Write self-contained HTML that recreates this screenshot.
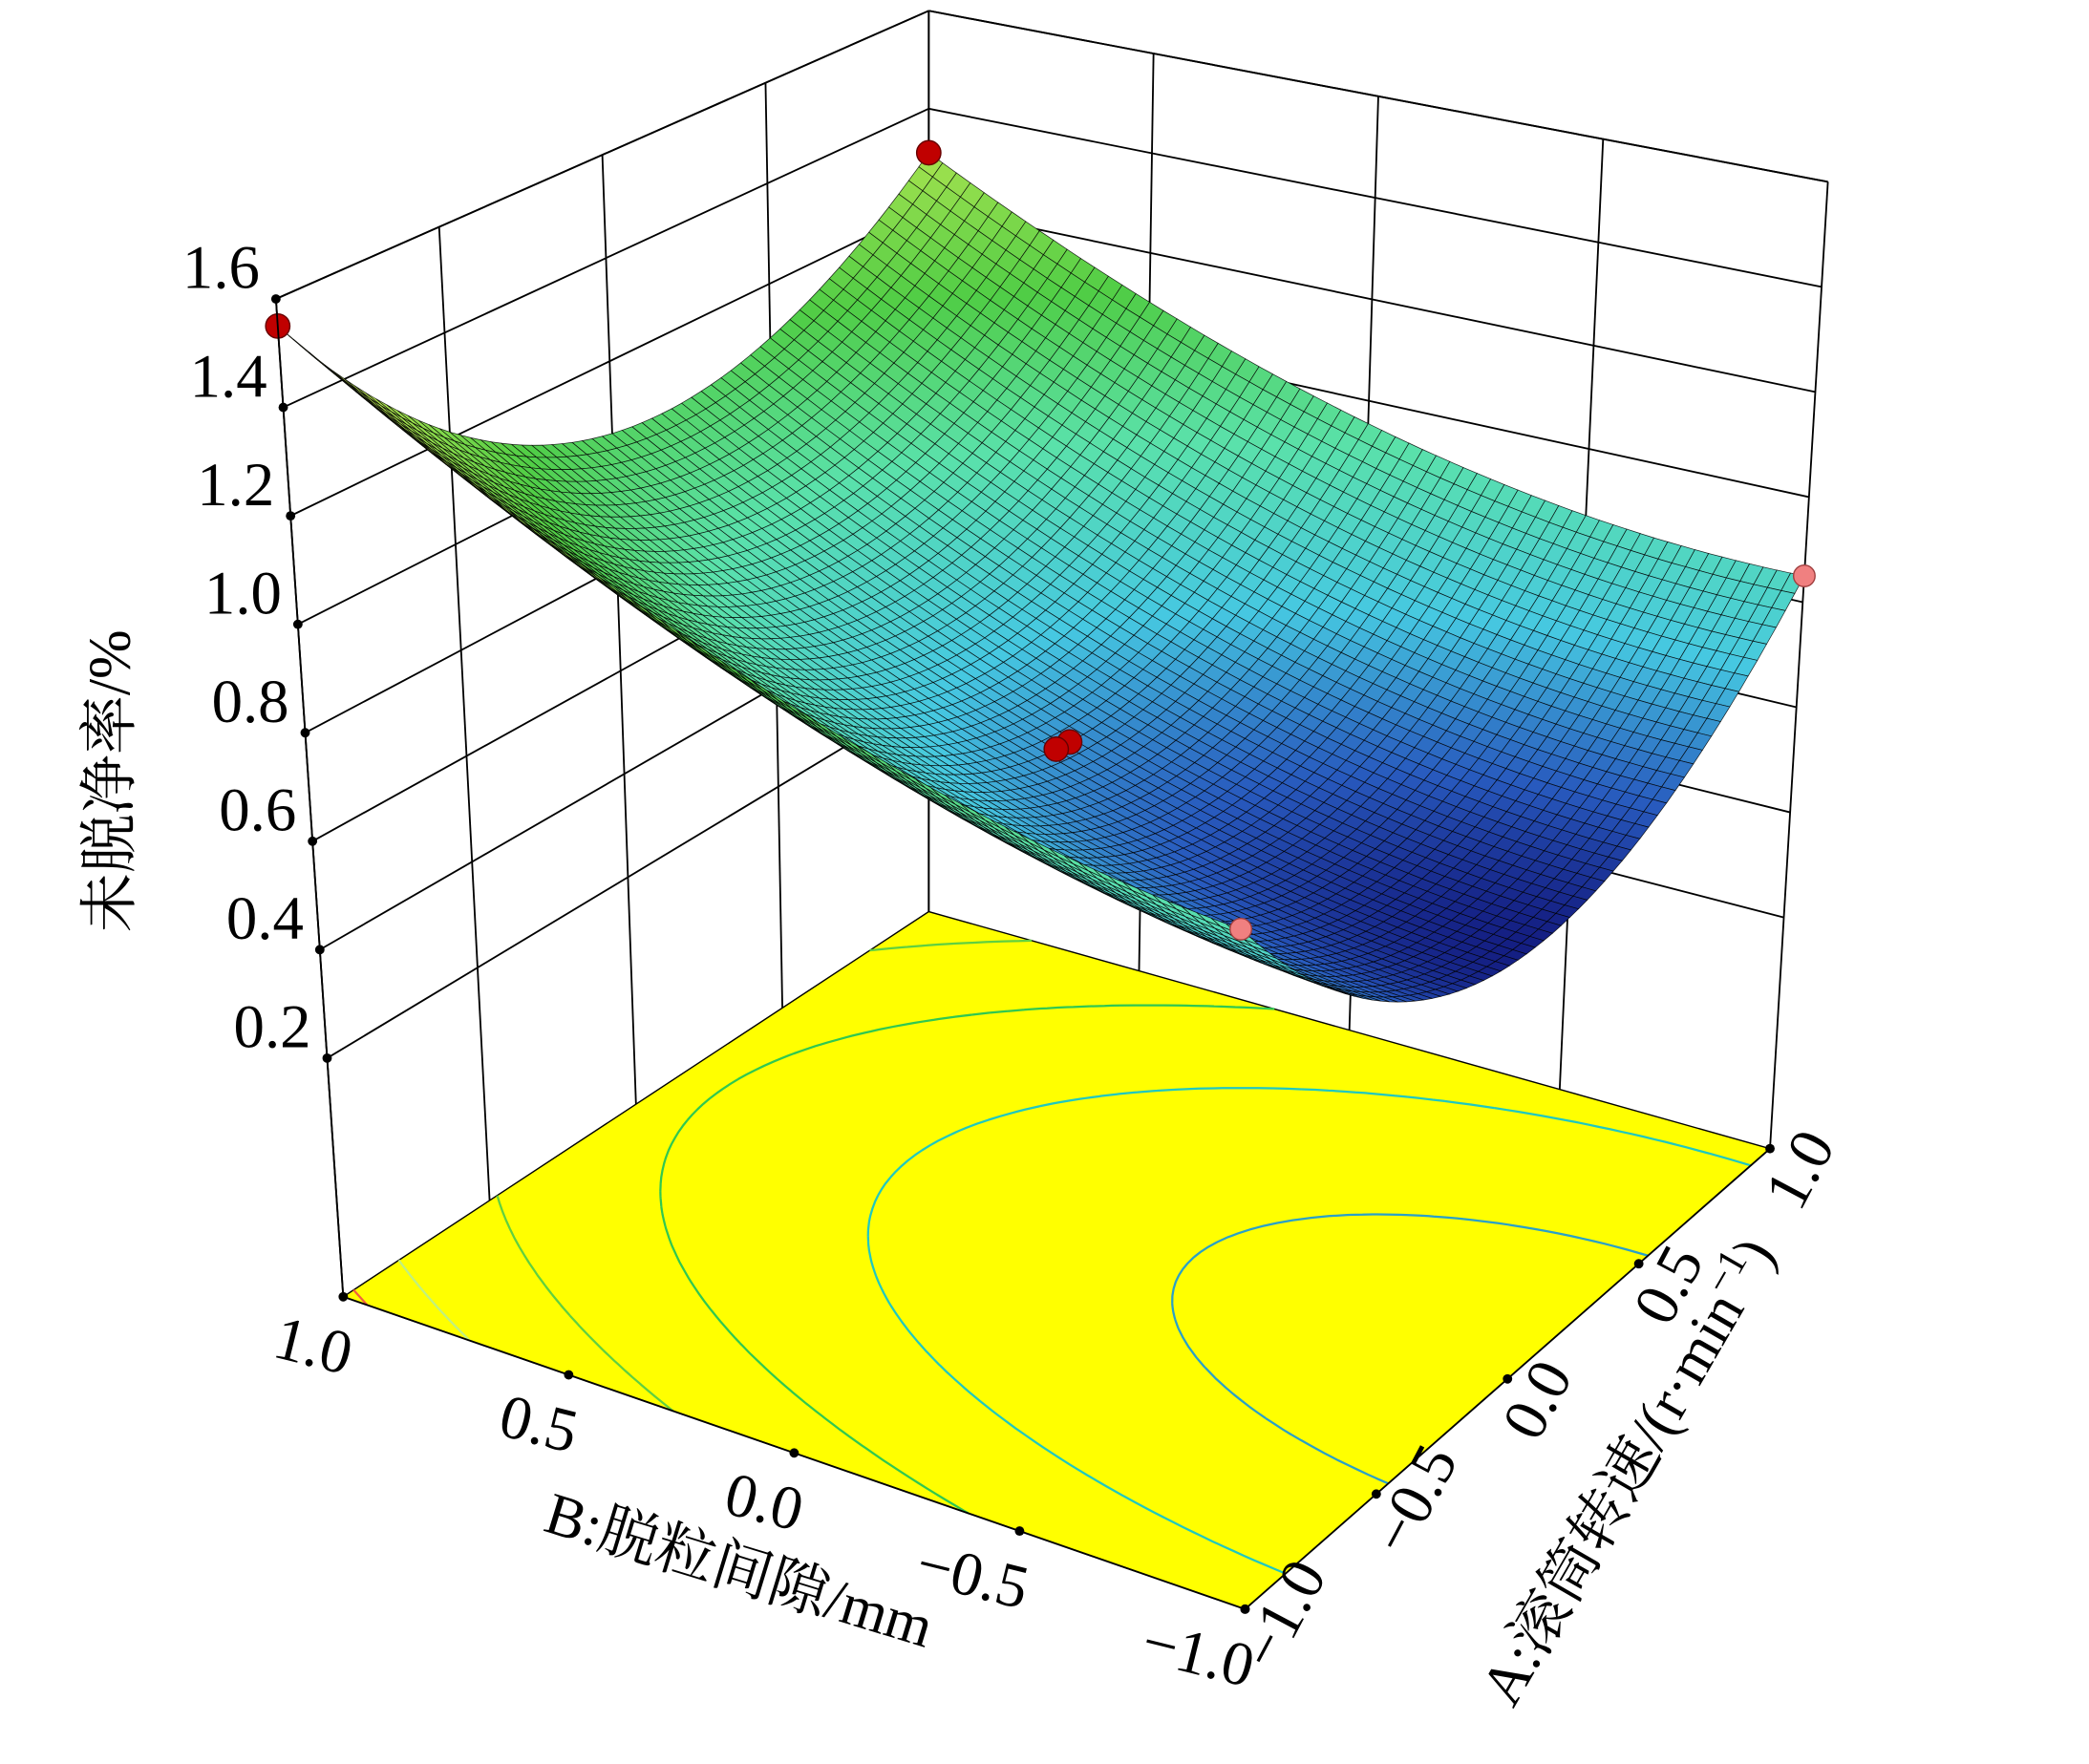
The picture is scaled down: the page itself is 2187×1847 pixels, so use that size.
<!DOCTYPE html>
<html><head><meta charset="utf-8"><style>
html,body{margin:0;padding:0;background:#fff;}
svg{display:block;}
text{font-family:"Liberation Serif","Noto Serif CJK SC","Noto Sans CJK SC",serif;fill:#000;}
</style></head><body>
<svg id="chart" width="2187" height="1847" viewBox="0 0 1552 1310" preserveAspectRatio="none" xmlns="http://www.w3.org/2000/svg">
<g id="walls"></g>
<g id="floor"></g>
<g id="surf"></g>
<g id="pts"></g>
<g id="axes"></g>
<text x="0" y="0" font-size="44" text-anchor="middle" transform="translate(96,580) rotate(-90)">未脱净率/%</text>
<text x="0" y="0" font-size="44" text-anchor="middle" transform="translate(545,1180) rotate(17)">B:脱粒间隙/mm</text>
<text x="0" y="0" font-size="44" text-anchor="middle" transform="translate(1222,1100) rotate(-60)">A:滚筒转速/(r·min<tspan font-size="30" dy="-16">−1</tspan><tspan dy="16">)</tspan></text>
</svg>
<script>
// model coefficients: c, A, B, AB, A^2, B^2
const coefNames = ["c","A","B","AB","A2","B2"];
const coefValues = [0.66,-0.075,0.275,-0.045,0.37,0.125];
// design points (A, B, response)
const pointA = [-1, 1, 1, 0, 0, -1];
const pointB = [1, 1, -1, 0, 0.03, -1];
const pointZ = [1.55, 1.31, 0.85, 0.69, 0.67, 0.91];
const pointAbove = [true, true, false, true, true, false];
const zTicks = [0.2,0.4,0.6,0.8,1.0,1.2,1.4,1.6];
const zTickLabels = ["0.2","0.4","0.6","0.8","1.0","1.2","1.4","1.6"];
const abTicks = [-1,-0.5,0,0.5,1];
const abTickLabels = ["−1.0","−0.5","0.0","0.5","1.0"];
const contourLevels = [0.6,0.8,1.0,1.2,1.4,1.52];
const contourColors = ["#2aa0c8","#20c8c0","#30c850","#60d040","#c0f080","#f06040"];

const Z0=-0.24, Z1=1.6;
const F={f:[925,1195],r:[1315,853],b:[690,677],l:[255,963]};
const T={f:[920,387],r:[1358,135],b:[690,8],l:[205,222]};
function bil(Q,a,b){const u=(a+1)/2,v=(b+1)/2;
 const x=(1-u)*(1-v)*Q.f[0]+u*(1-v)*Q.r[0]+u*v*Q.b[0]+(1-u)*v*Q.l[0];
 const y=(1-u)*(1-v)*Q.f[1]+u*(1-v)*Q.r[1]+u*v*Q.b[1]+(1-u)*v*Q.l[1];return [x,y];}
function P(a,b,z){const p=bil(F,a,b),q=bil(T,a,b),t=(z-Z0)/(Z1-Z0);return [p[0]+(q[0]-p[0])*t,p[1]+(q[1]-p[1])*t];}
function model(a,b){const c=coefValues;return c[0]+c[1]*a+c[2]*b+c[3]*a*b+c[4]*a*a+c[5]*b*b;}
const NS="http://www.w3.org/2000/svg";
function mk(tag,attrs,parent){const e=document.createElementNS(NS,tag);for(const k in attrs)e.setAttribute(k,attrs[k]);parent.appendChild(e);return e;}
const walls=document.getElementById('walls'),floor=document.getElementById('floor'),surf=document.getElementById('surf'),pts=document.getElementById('pts'),axes=document.getElementById('axes');
function line(p,q,parent,name,col,w){const e=mk('line',{x1:p[0],y1:p[1],x2:q[0],y2:q[1],stroke:col||'#000','stroke-width':w||1.3},parent);
 
 return e;}
abTicks.forEach(t=>{
 line(P(t,1,Z0),P(t,1,Z1),walls,'wall-gridline-vertical');
 line(P(1,t,Z0),P(1,t,Z1),walls,'wall-gridline-vertical');
});
zTicks.concat([Z1]).forEach(z=>{
 line(P(-1,1,z),P(1,1,z),walls,'wall-gridline-horizontal');
 line(P(1,1,z),P(1,-1,z),walls,'wall-gridline-horizontal');
});
const fp=[P(-1,-1,Z0),P(1,-1,Z0),P(1,1,Z0),P(-1,1,Z0)];
const fl=mk('polygon',{points:fp.map(p=>p.join(',')).join(' '),fill:'#ffff00',stroke:'#000','stroke-width':1},floor);


const NC=80;
contourLevels.forEach((lv,li)=>{
 let d='';
 for(let i=0;i<NC;i++)for(let j=0;j<NC;j++){
  const a0=-1+2*i/NC,a1=-1+2*(i+1)/NC,b0=-1+2*j/NC,b1=-1+2*(j+1)/NC;
  const c=[[a0,b0],[a1,b0],[a1,b1],[a0,b1]],v=c.map(p=>model(p[0],p[1])-lv);
  const s=[];
  for(let k=0;k<4;k++){const m=(k+1)%4;if((v[k]<0)!==(v[m]<0)){const t=v[k]/(v[k]-v[m]);s.push([c[k][0]+(c[m][0]-c[k][0])*t,c[k][1]+(c[m][1]-c[k][1])*t]);}}
  for(let k=0;k+1<s.length;k+=2){const p=P(s[k][0],s[k][1],Z0),q=P(s[k+1][0],s[k+1][1],Z0);d+='M'+p[0].toFixed(1)+','+p[1].toFixed(1)+'L'+q[0].toFixed(1)+','+q[1].toFixed(1);}
 }
 const e=mk('path',{d:d,stroke:contourColors[li],'stroke-width':1.6,fill:'none'},floor);
 
 
});
const N=64;let zmin=1e9,zmax=-1e9;
for(let i=0;i<=N;i++)for(let j=0;j<=N;j++){const z=model(-1+2*i/N,-1+2*j/N);zmin=Math.min(zmin,z);zmax=Math.max(zmax,z);}
const stops=[[0,[20,30,130]],[0.08,[40,90,190]],[0.22,[70,200,225]],[0.4,[90,225,170]],[0.58,[80,205,70]],[0.8,[180,230,80]],[1,[245,245,120]]];
function cmap(t){for(let k=0;k<stops.length-1;k++){if(t<=stops[k+1][0]){const u=(t-stops[k][0])/(stops[k+1][0]-stops[k][0]);const a=stops[k][1],b=stops[k+1][1];return 'rgb('+a.map((x,i)=>Math.round(x+(b[i]-x)*u)).join(',')+')';}}return 'rgb(245,245,120)';}
const quads=[];
for(let i=0;i<N;i++)for(let j=0;j<N;j++){quads.push([i,j]);}
quads.sort((p,q)=>(q[0]+q[1])-(p[0]+p[1]));
quads.forEach(([i,j])=>{
 const a0=-1+2*i/N,a1=-1+2*(i+1)/N,b0=-1+2*j/N,b1=-1+2*(j+1)/N;
 const cs=[[a0,b0],[a1,b0],[a1,b1],[a0,b1]];
 const zs=cs.map(c=>model(c[0],c[1]));const zm=(zs[0]+zs[1]+zs[2]+zs[3])/4;
 const pp=cs.map((c,k)=>P(c[0],c[1],zs[k]));
 const e=mk('polygon',{points:pp.map(p=>p[0].toFixed(1)+','+p[1].toFixed(1)).join(' '),fill:cmap((zm-zmin)/(zmax-zmin)),stroke:'#000','stroke-width':0.5,'stroke-opacity':0.85},surf);
 
 
});
pointA.forEach((a,k)=>{const p=P(a,pointB[k],pointZ[k]);
 const e=mk('circle',{cx:p[0],cy:p[1],r:pointAbove[k]?9:8,fill:pointAbove[k]?'#c00000':'#f08080',stroke:pointAbove[k]?'#600':'#a04040','stroke-width':1},pts);
 
 
});
line(P(-1,1,Z0),P(-1,1,Z1),axes,'z-axis-line');
line(P(-1,1,Z0),P(-1,-1,Z0),axes,'b-axis-line');
line(P(-1,-1,Z0),P(1,-1,Z0),axes,'a-axis-line');
zTicks.forEach((z,k)=>{const p=P(-1,1,z);
 const d=mk('circle',{cx:p[0],cy:p[1],r:3.5,fill:'#000'},axes);
 
 
 const t=mk('text',{x:p[0]-12,y:p[1]-8,'font-size':46,'text-anchor':'end'},axes);t.textContent=zTickLabels[k];
 
 
});
abTicks.forEach((v,k)=>{
 const p=P(-1,v,Z0);
 const d=mk('circle',{cx:p[0],cy:p[1],r:3.5,fill:'#000'},axes);
 
 
 const t=mk('text',{x:0,y:0,'font-size':46,'text-anchor':'end',transform:'translate('+(p[0]+2)+','+(p[1]+58)+') rotate(14)'},axes);t.textContent=abTickLabels[k];
 
 
 const q=P(v,-1,Z0);
 const d2=mk('circle',{cx:q[0],cy:q[1],r:3.5,fill:'#000'},axes);
 
 
 const t2=mk('text',{x:0,y:0,'font-size':46,'text-anchor':'start',transform:'translate('+(q[0]+22)+','+(q[1]+48)+') rotate(-62)'},axes);t2.textContent=abTickLabels[k];
 
 
});
</script>
</body></html>
